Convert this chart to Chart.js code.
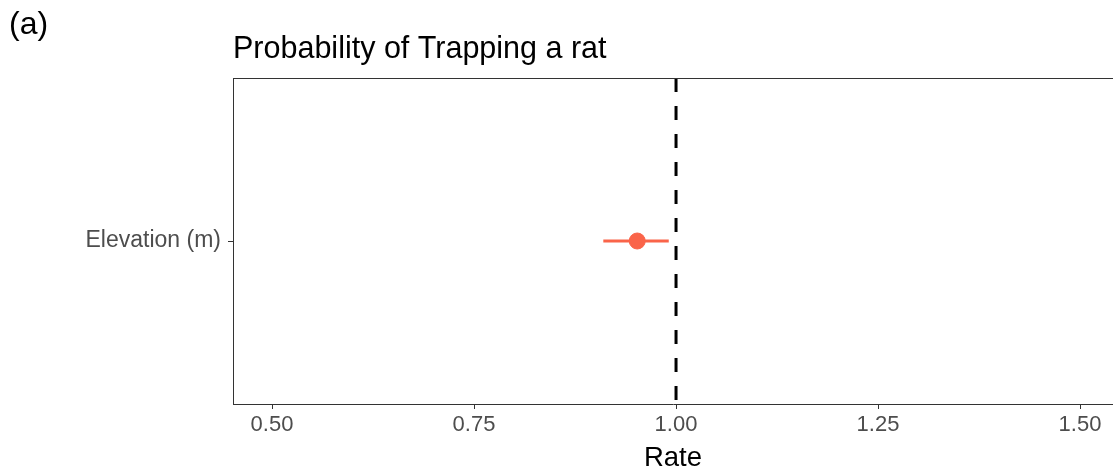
<!DOCTYPE html>
<html>
<head>
<meta charset="utf-8">
<script src="https://cdn.jsdelivr.net/npm/chart.js@4/dist/chart.umd.min.js"></script>
<style>
  body { margin: 0; background: #fff; }
  #wrap { width: 1113px; height: 472px; }
</style>
</head>
<body>
<div id="wrap"><canvas id="myChart" width="1113" height="472"></canvas></div>
<script>
'use strict';

const categories = ['Elevation (m)'];
const estimates = [0.952];
const lowerBounds = [0.91];
const upperBounds = [0.991];
const xTicks = [0.5, 0.75, 1.0, 1.25, 1.5];
const refValue = 1.0;

const panelTag = '(a)';
const chartTitle = 'Probability of Trapping a rat';
const xTitle = 'Rate';

const pointColor = '#FA6449';
const fontFamily = '"Liberation Sans", Arial, sans-serif';

const chartCanvas = document.getElementById('myChart');

// discrete y positions like ggplot: 1..n, expanded by 0.6
const yMin = 0.4;
const yMax = categories.length + 0.6;

const datasets = [];
for (let i = 0; i < categories.length; i++) {
  datasets.push({
    type: 'line',
    data: [
      { x: lowerBounds[i], y: i + 1 },
      { x: upperBounds[i], y: i + 1 },
    ],
    borderColor: pointColor,
    borderWidth: 3,
    pointRadius: 0,
    order: 2,
  });
}
datasets.push({
  type: 'scatter',
  data: estimates.map((v, i) => ({ x: v, y: i + 1 })),
  backgroundColor: pointColor,
  borderColor: pointColor,
  pointRadius: 8,
  pointHoverRadius: 8,
  order: 1,
});
datasets.push({
  type: 'line',
  data: [
    { x: refValue, y: yMax },
    { x: refValue, y: yMin },
  ],
  borderColor: '#000000',
  borderWidth: 3,
  borderDash: [14, 14],
  pointRadius: 0,
  order: 0,
});

const framePlugin = {
  id: 'frameAndText',
  afterDraw(chart) {
    const ctx = chart.ctx;
    const area = chart.chartArea;
    ctx.save();
    ctx.strokeStyle = '#333333';
    ctx.lineWidth = 1;
    ctx.beginPath();
    ctx.moveTo(area.left, area.top + 0.5);
    ctx.lineTo(area.right, area.top + 0.5);
    ctx.stroke();

    ctx.fillStyle = '#000000';
    ctx.textBaseline = 'alphabetic';
    ctx.textAlign = 'left';
    ctx.font = '32px ' + fontFamily;
    ctx.fillText(panelTag, 9, 34);
    ctx.font = '30.5px ' + fontFamily;
    ctx.fillText(chartTitle, area.left, 58);
    ctx.restore();
  },
};

new Chart(chartCanvas, {
  type: 'scatter',
  data: { datasets: datasets },
  options: {
    responsive: false,
    animation: false,
    layout: {
      autoPadding: false,
      padding: { top: 78, left: 0, right: 0, bottom: 0 },
    },
    plugins: {
      legend: { display: false },
      tooltip: { enabled: false },
    },
    scales: {
      x: {
        type: 'linear',
        min: 0.4517,
        max: 1.5408,
        afterBuildTicks(scale) {
          scale.ticks = xTicks.map((v) => ({ value: v }));
        },
        afterFit(scale) {
          scale.height = 68;
          scale.paddingLeft = 0;
          scale.paddingRight = 0;
        },
        ticks: {
          color: '#4D4D4D',
          font: { family: fontFamily, size: 22 },
          padding: 3,
          maxRotation: 0,
          autoSkip: false,
          callback: (v) => v.toFixed(2),
        },
        grid: {
          drawOnChartArea: false,
          drawTicks: true,
          tickLength: 5,
          tickWidth: 1,
          tickColor: '#333333',
        },
        border: { color: '#333333', width: 1 },
        title: {
          display: true,
          text: xTitle,
          color: '#000000',
          font: { family: fontFamily, size: 27.5, lineHeight: 1.0 },
          padding: 0,
        },
      },
      y: {
        type: 'linear',
        min: yMin,
        max: yMax,
        afterBuildTicks(scale) {
          scale.ticks = categories.map((c, i) => ({ value: i + 1 }));
        },
        afterFit(scale) {
          scale.width = 233;
          scale.paddingTop = 0;
          scale.paddingBottom = 0;
        },
        ticks: {
          color: '#4D4D4D',
          font: { family: fontFamily, size: 23 },
          padding: 7,
          autoSkip: false,
          callback: (v) => categories[Math.round(v) - 1] || '',
        },
        grid: {
          drawOnChartArea: false,
          drawTicks: true,
          tickLength: 5,
          tickWidth: 1,
          tickColor: '#333333',
        },
        border: { color: '#333333', width: 1 },
      },
    },
  },
  plugins: [framePlugin],
});
</script>
</body>
</html>
